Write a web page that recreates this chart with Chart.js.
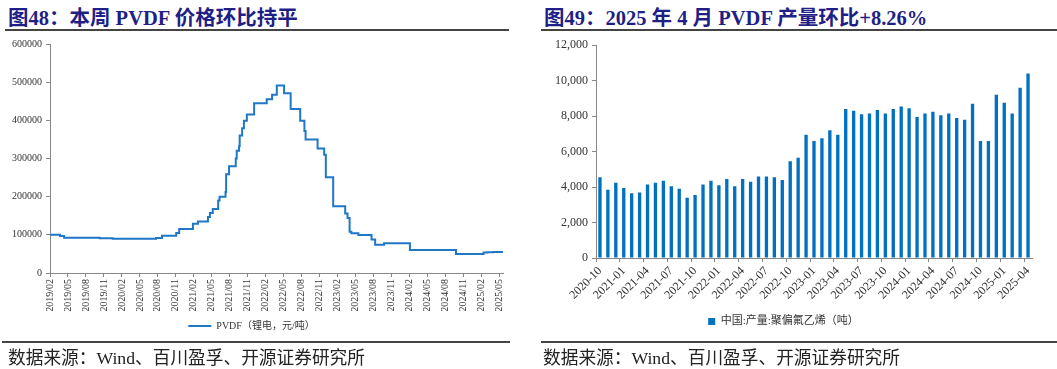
<!DOCTYPE html>
<html>
<head>
<meta charset="utf-8">
<script src="https://cdn.jsdelivr.net/npm/chart.js@4/dist/chart.umd.min.js"></script>
<style>
  body { margin: 0; width: 1057px; height: 369px; background: #fff; position: relative; overflow: hidden; }
  .title { position: absolute; top: 1px; font: bold 20.5px "Liberation Serif", "Noto Sans CJK SC"; color: #1f1f86; white-space: nowrap; }
  .rule { position: absolute; height: 2px; background: #444; }
  .src { position: absolute; top: 343px; font: 17.7px "Liberation Serif", "Noto Sans CJK SC"; color: #222; white-space: nowrap; }
  canvas { position: absolute; top: 34px; }
</style>
</head>
<body>
<div class="title" style="left:8px">图48：本周 PVDF 价格环比持平</div>
<div class="rule" style="left:5px;top:29px;width:504px"></div>
<div class="title" style="left:544px">图49：2025 年 4 月 PVDF 产量环比+8.26%</div>
<div class="rule" style="left:541px;top:29px;width:516px"></div>

<canvas id="priceChart" width="520" height="315" style="left:0"></canvas>
<canvas id="prodChart" width="522" height="311" style="left:535px"></canvas>

<div class="rule" style="left:2px;top:341px;width:508px"></div>
<div class="rule" style="left:541px;top:341px;width:516px"></div>
<div class="src" style="left:8px">数据来源：Wind、百川盈孚、开源证券研究所</div>
<div class="src" style="left:543px">数据来源：Wind、百川盈孚、开源证券研究所</div>

<script>
'use strict'
// PVDF price (lithium grade), value changes at these dates
let priceDates = ['2019-02-01', '2019-03-22', '2019-04-12', '2019-10-10', '2019-12-15',
  '2020-07-22', '2020-08-22', '2020-11-03', '2020-11-18', '2021-01-27', '2021-02-22',
  '2021-04-12', '2021-04-22', '2021-05-06', '2021-06-03', '2021-06-10', '2021-07-10',
  '2021-07-13', '2021-07-28', '2021-09-01', '2021-09-06', '2021-09-18', '2021-09-21',
  '2021-10-03', '2021-10-12', '2021-10-27', '2021-12-03', '2022-02-06', '2022-03-03',
  '2022-03-27', '2022-05-03', '2022-06-06', '2022-07-24', '2022-08-15', '2022-08-21',
  '2022-10-21', '2022-11-24', '2022-12-02', '2023-01-09', '2023-03-09', '2023-03-21',
  '2023-04-01', '2023-04-10', '2023-05-15', '2023-07-21', '2023-08-09', '2023-09-24',
  '2024-02-03', '2024-09-24', '2025-02-12', '2025-03-01', '2025-04-01', '2025-05-19'];
let priceValues = [100000, 97000, 92500, 91000, 90000,
  92000, 97500, 105000, 115000, 129000, 135000,
  147000, 157000, 168000, 190000, 200000, 212000,
  259000, 280000, 300000, 320000, 333000, 360000,
  379000, 399000, 415000, 445000, 455000, 467000,
  491000, 471000, 430000, 399000, 372000, 350000,
  326000, 310000, 251000, 175000, 156000, 144000,
  108000, 104000, 99500, 88000, 74000, 78000,
  60500, 50000, 53500, 54500, 55000, 55000];

// monthly PVDF output, tonnes
let prodMonths = [];
for (let y = 2020; y <= 2025; y++) {
  for (let m = 1; m <= 12; m++) {
    if ((y === 2020 && m < 10) || (y === 2025 && m > 4)) continue;
    prodMonths.push(y + '-' + String(m).padStart(2, '0'));
  }
}
let prodValues = [4550, 3850, 4250,
  3950, 3650, 3700, 4150, 4250, 4350, 4050, 3900, 3400, 3550, 4150, 4350,
  4100, 4450, 4050, 4450, 4300, 4600, 4600, 4550, 4400, 5450, 5650, 6950,
  6600, 6750, 7200, 6950, 8400, 8300, 8100, 8150, 8350, 8150, 8400, 8550,
  8450, 7950, 8150, 8250, 8050, 8150, 7900, 7800, 8700, 6600, 6600, 9200,
  8750, 8150, 9600, 10400];

Chart.defaults.font.family = '"Liberation Serif", "Noto Sans CJK SC"';
Chart.defaults.color = '#333';

// months counted from 2019/02
function monthOffset(s) {
  let [y, m, d] = s.split('-').map(Number);
  return (y - 2019) * 12 + (m - 2) + (d - 1) / 30.5;
}
function monthLabel(v) {
  let n = Math.round(v) + 1;
  return (2019 + Math.floor(n / 12)) + '/' + String(n % 12 + 1).padStart(2, '0');
}

let priceData = priceDates.map((d, i) => ({ x: monthOffset(d), y: priceValues[i] }));

new Chart(document.getElementById('priceChart'), {
  type: 'line',
  data: {
    datasets: [{
      label: 'PVDF（锂电，元/吨）',
      data: priceData,
      borderColor: '#1f77c8',
      backgroundColor: '#1f77c8',
      borderWidth: 2,
      pointRadius: 0,
      stepped: true
    }]
  },
  options: {
    responsive: false,
    animation: false,
    layout: { padding: { top: 8, right: 17, left: 0, bottom: 8 } },
    plugins: {
      legend: {
        position: 'bottom',
        labels: { usePointStyle: true, pointStyle: 'line', pointStyleWidth: 23, font: { size: 10 }, padding: 10 }
      },
      tooltip: { enabled: false }
    },
    scales: {
      x: {
        type: 'linear',
        min: 0,
        max: 75.6,
        afterBuildTicks: axis => { axis.ticks = axis.ticks.filter(t => Math.abs(t.value % 3) < 1e-6) },
        afterFit: axis => { axis.height = 38 },
        ticks: { stepSize: 3, includeBounds: false, autoSkip: false, minRotation: 90, maxRotation: 90, font: { size: 10 }, padding: 2, callback: v => monthLabel(v) },
        grid: { drawOnChartArea: false, tickLength: 4, color: '#888' },
        border: { color: '#888' }
      },
      y: {
        min: 0,
        max: 600000,
        afterFit: axis => { axis.width = 50 },
        ticks: { stepSize: 100000, font: { size: 10 }, padding: 4, callback: v => String(v) },
        grid: { drawOnChartArea: false, tickLength: 4, color: '#888' },
        border: { color: '#888' }
      }
    }
  }
});

new Chart(document.getElementById('prodChart'), {
  type: 'bar',
  data: {
    labels: prodMonths,
    datasets: [{
      label: '中国:产量:聚偏氟乙烯（吨）',
      data: prodValues,
      backgroundColor: '#0070c0',
      barPercentage: 0.42,
      categoryPercentage: 1
    }]
  },
  options: {
    responsive: false,
    animation: false,
    layout: { padding: { top: 11, right: 25, left: 0, bottom: 8 } },
    plugins: {
      legend: { position: 'bottom', labels: { boxWidth: 7, boxHeight: 7, font: { size: 11 }, padding: 10 } },
      tooltip: { enabled: false }
    },
    scales: {
      x: {
        afterFit: axis => { axis.height = 48 },
        ticks: { autoSkip: false, minRotation: 45, maxRotation: 45, font: { size: 12 }, padding: 2,
          callback: (v, i) => i % 3 === 0 ? prodMonths[i] : '' },
        grid: { drawOnChartArea: false, tickLength: 4, color: c => c.index % 3 === 0 ? '#888' : 'rgba(0,0,0,0)' },
        border: { color: '#888' }
      },
      y: {
        min: 0,
        max: 12000,
        afterFit: axis => { axis.width = 61 },
        ticks: { stepSize: 2000, font: { size: 12 }, padding: 4, callback: v => v.toLocaleString('en-US') },
        grid: { drawOnChartArea: false, tickLength: 4, color: '#888' },
        border: { color: '#888' }
      }
    }
  }
});
</script>
</body>
</html>
